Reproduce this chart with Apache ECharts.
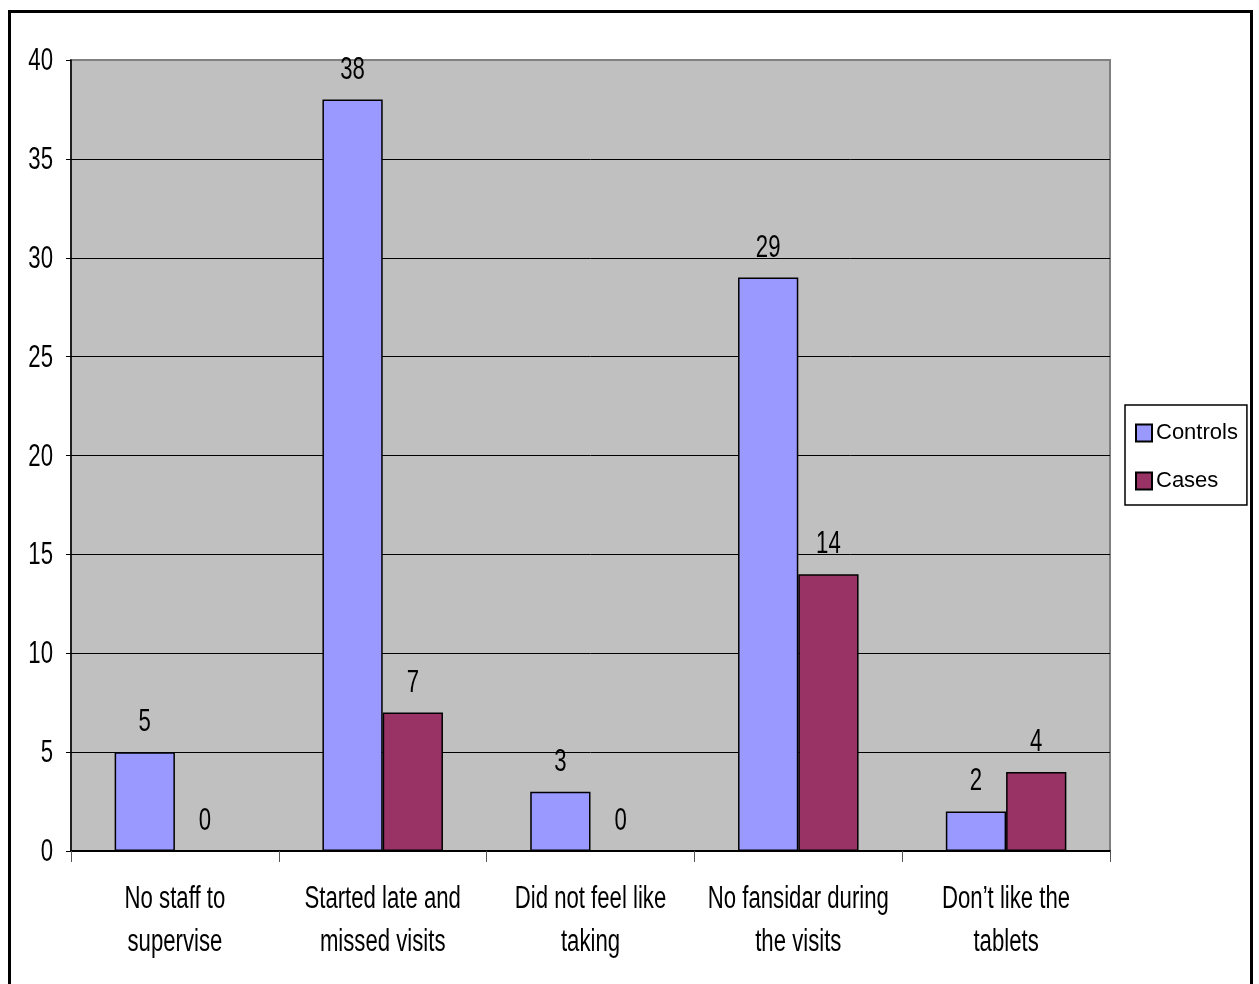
<!DOCTYPE html>
<html>
<head>
<meta charset="utf-8">
<script src="https://cdn.jsdelivr.net/npm/echarts@6/dist/echarts.min.js"></script>
<style>
  html, body { margin: 0; padding: 0; background: #fff; }
  #chart { width: 1259px; height: 984px; }
</style>
</head>
<body>
<div id="chart"></div>
<script>
// Reasons for non-adherence, counts per group
const categories = [
  'No staff to\nsupervise',
  'Started late and\nmissed visits',
  'Did not feel like\ntaking',
  'No fansidar during\nthe visits',
  'Don\u2019t like the\ntablets'
];
const controls = [5, 38, 3, 29, 2];
const cases = [0, 7, 0, 14, 4];
const yTicks = [0, 5, 10, 15, 20, 25, 30, 35, 40];

const FONT = "'Liberation Sans', Arial, sans-serif";
// condensed look: large type squeezed horizontally
const TXT_SIZE = 31;
const TXT_SCALE = 0.715;

const chart = echarts.init(document.getElementById('chart'), null, { renderer: 'canvas' });

chart.setOption({
  animation: false,
  backgroundColor: '#fff',
  graphic: [{
    id: 'frame',
    type: 'rect',
    shape: { x: 9.5, y: 11.5, width: 1242, height: 1000 },
    style: { fill: 'none', stroke: '#000', lineWidth: 3 },
    z: 100
  }],
  grid: {
    left: 71, right: 149, top: 60, bottom: 133,
    show: true,
    backgroundColor: '#C0C0C0',
    borderColor: '#808080',
    borderWidth: 2
  },
  legend: {
    orient: 'vertical',
    left: 1125, top: 405,
    padding: [17, 9, 13, 10],
    itemGap: 26,
    itemWidth: 16, itemHeight: 17,
    icon: 'rect',
    borderColor: '#000', borderWidth: 1.5,
    textStyle: { fontFamily: FONT, fontSize: 22, color: '#000', padding: [0, 0, 0, -1] },
    data: ['Controls', 'Cases']
  },
  xAxis: {
    type: 'category',
    data: categories,
    boundaryGap: true,
    axisLine: { show: true, lineStyle: { color: '#000', width: 2 } },
    axisTick: { show: true, length: 11, lineStyle: { color: '#555', width: 1 } },
    axisLabel: { show: false },
    splitLine: { show: false }
  },
  yAxis: {
    type: 'value',
    min: yTicks[0], max: yTicks[yTicks.length - 1], interval: 5,
    axisLine: { show: true, lineStyle: { color: '#000', width: 1.5 } },
    axisTick: { show: true, length: 5, lineStyle: { color: '#000' } },
    axisLabel: { show: false },
    splitLine: {
      show: true,
      lineStyle: {
        color: ['#000', '#000', '#000', '#000', '#000', '#000', '#000', '#000', '#808080'],
        width: 1
      }
    }
  },
  series: [
    {
      name: 'Controls',
      type: 'bar',
      data: controls,
      barGap: '0%',
      barCategoryGap: '42%',
      itemStyle: { color: '#9999FF', borderColor: '#000', borderWidth: 1.5 }
    },
    {
      name: 'Cases',
      type: 'bar',
      data: cases,
      itemStyle: { color: '#993366', borderColor: '#000', borderWidth: 1.5 }
    }
  ]
});

// Condensed text elements placed from the chart's own scales and bar layouts
function narrowText(id, x, y, text, align, vAlign, extra) {
  return {
    id: id,
    type: 'text',
    x: x, y: y,
    scaleX: TXT_SCALE,
    z: 50,
    style: Object.assign({
      text: text,
      align: align,
      verticalAlign: vAlign,
      fontFamily: FONT,
      fontSize: TXT_SIZE,
      fill: '#000'
    }, extra || {})
  };
}

function buildTexts() {
  const rect = chart.getModel().getComponent('grid').coordinateSystem.getRect();
  const els = [];

  // value axis labels
  yTicks.forEach(function (v) {
    const y = chart.convertToPixel({ yAxisIndex: 0 }, v);
    els.push(narrowText('ytick' + v, rect.x - 18, y + 1.5, String(v), 'right', 'middle'));
  });

  // category labels, two lines each
  categories.forEach(function (c, i) {
    const x = chart.convertToPixel({ xAxisIndex: 0 }, i);
    els.push(narrowText('cat' + i, x, rect.y + rect.height + 70, c, 'center', 'middle',
      { lineHeight: 43 }));
  });

  // value labels above each bar
  [controls, cases].forEach(function (vals, s) {
    const data = chart.getModel().getSeriesByIndex(s).getData();
    vals.forEach(function (v, i) {
      const lay = data.getItemLayout(i);
      const top = Math.min(lay.y, lay.y + lay.height);
      els.push(narrowText('val' + s + '_' + i, lay.x + lay.width / 2, top - 29.5,
        String(v), 'center', 'middle'));
    });
  });

  chart.setOption({ graphic: els });
}
buildTexts();
</script>
</body>
</html>
